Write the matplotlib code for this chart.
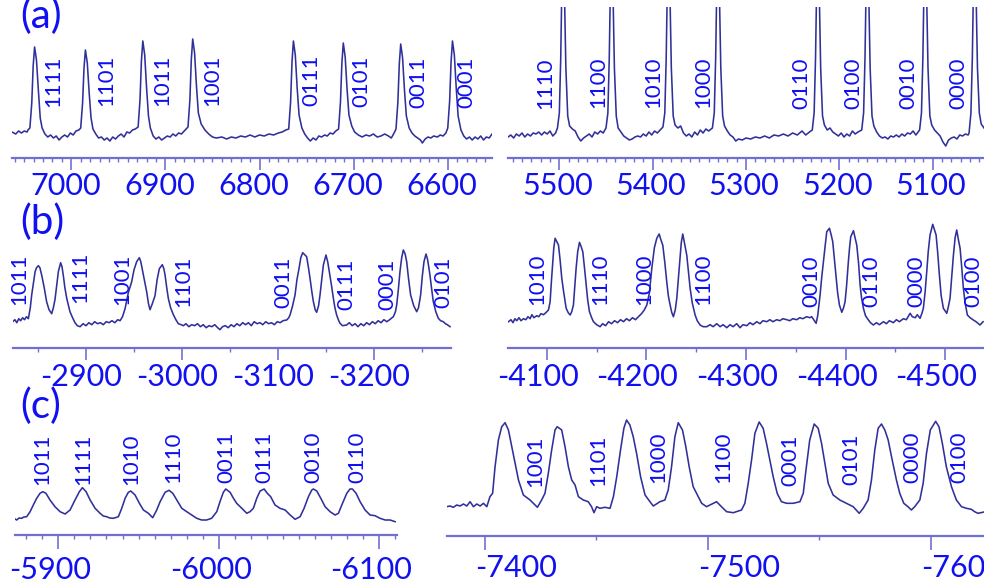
import numpy as np
import matplotlib
matplotlib.use('Agg')
import matplotlib.pyplot as plt
from matplotlib.ticker import MultipleLocator, FixedLocator, FormatStrFormatter
from matplotlib.transforms import ScaledTranslation

plt.rcParams['font.family'] = ['Lato', 'DejaVu Sans']
plt.rcParams['axes.unicode_minus'] = False

TXT = '#1010f0'
LINE = '#30309a'
AXC = '#7070d4'

# ---- (a) left: spectrum (x, intensity)
a1_pts = np.array([
    (7063, 26), (7059, 24), (7056, 27), (7053, 25), (7050, 27), (7047, 26), (7046, 28),
    (7044, 30), (7042, 55), (7040.5, 92), (7039, 111), (7037, 98), (7035, 68), (7033, 40), (7031, 30),
    (7028, 24), (7025, 21), (7022, 23), (7019, 20), (7016, 22), (7013, 18), (7010, 21), (7007, 23),
    (7004, 21), (7001, 25), (6998, 23), (6995, 27), (6992, 28),
    (6990, 30), (6988, 55), (6986.5, 90), (6985, 108), (6983, 95), (6981, 65), (6979, 40), (6977, 29),
    (6974, 24), (6971, 20), (6968, 21), (6965, 18), (6962, 20), (6959, 17), (6956, 21), (6953, 19),
    (6950, 22), (6947, 24), (6944, 21), (6941, 26), (6938, 25), (6935, 28), (6932, 29),
    (6929, 31), (6927, 58), (6925.5, 97), (6924, 117), (6922, 103), (6920, 70), (6918, 42), (6916, 30),
    (6913, 22), (6910, 19), (6907, 21), (6904, 18), (6901, 20), (6898, 22), (6895, 21), (6892, 24),
    (6889, 22), (6886, 25), (6883, 24), (6880, 27), (6878, 29),
    (6876, 31), (6874, 58), (6872.5, 98), (6871, 119), (6869, 105), (6867, 72), (6865, 45), (6862, 34),
    (6858, 28), (6854, 24), (6850, 21), (6846, 20), (6840, 21), (6835, 19), (6830, 21), (6825, 20),
    (6820, 22), (6815, 21), (6810, 23), (6805, 21), (6800, 23), (6795, 22), (6790, 24), (6785, 23),
    (6780, 25), (6776, 26), (6772, 28),
    (6769, 29), (6767, 56), (6765.5, 96), (6764, 117), (6762, 103), (6760, 70), (6758, 43), (6755, 30),
    (6752, 24), (6749, 20), (6746, 17), (6743, 20), (6740, 18), (6737, 22), (6734, 21), (6731, 23),
    (6728, 22), (6725, 25), (6722, 24), (6719, 27),
    (6716, 29), (6714, 56), (6712.5, 95), (6711, 115), (6709, 101), (6707, 69), (6705, 43), (6702, 32),
    (6699, 26), (6695, 23), (6691, 21), (6687, 23), (6683, 22), (6679, 24), (6675, 21), (6671, 22),
    (6667, 24), (6663, 22), (6660, 20), (6657, 25),
    (6655, 29), (6653, 56), (6651.5, 94), (6650, 114), (6648, 100), (6646, 68), (6644, 42), (6641, 30),
    (6638, 25), (6635, 22), (6632, 20), (6629, 18), (6627, 15), (6624, 19), (6621, 21), (6618, 20),
    (6615, 22), (6611, 21), (6608, 23), (6605, 22), (6602, 25),
    (6600, 30), (6598, 57), (6596.5, 96), (6595, 117), (6593, 103), (6591, 70), (6589, 42), (6586, 28),
    (6583, 22), (6580, 19), (6577, 21), (6574, 18), (6571, 21), (6568, 19), (6565, 22), (6562, 18),
    (6559, 21), (6556, 20), (6553, 24)])
a1_codes = ['1111', '1101', '1011', '1001', '0111', '0101', '0011', '0001']
a1_lx = [7018.8, 6962.8, 6903.7, 6850, 6744.5, 6691.4, 6631.3, 6580]
a1_ly = [51.3, 52, 52, 52, 52, 51.3, 49.7, 49.7]
a1_ticks = [7000, 6900, 6800, 6700, 6600]

# ---- (a) right
a2_pts = np.array([
    (5555, 21), (5552, 23), (5549, 20), (5546, 24), (5543, 22), (5540, 25), (5537, 21), (5534, 24),
    (5531, 22), (5528, 25), (5525, 24), (5522, 26), (5519, 23), (5516, 26), (5513, 24), (5510, 27),
    (5507, 22), (5504, 25),
    (5502, 30), (5500, 45), (5498.5, 100), (5497.5, 160), (5496, 200), (5494.5, 165), (5493, 90),
    (5491, 42), (5489, 32),
    (5486, 29), (5483, 27), (5480, 21), (5477, 17), (5474, 20), (5471, 22), (5468, 24), (5465, 21),
    (5462, 26), (5459, 24), (5456, 27), (5453, 25),
    (5450, 30), (5448, 45), (5446.5, 100), (5445.5, 160), (5444, 200), (5442.5, 165), (5441, 90),
    (5439, 42), (5437, 30),
    (5434, 26), (5431, 22), (5428, 20), (5425, 18), (5422, 19), (5419, 21), (5416, 22), (5413, 21),
    (5410, 24), (5407, 22), (5404, 26), (5401, 23), (5398, 27), (5395, 25), (5392, 28),
    (5389, 31), (5387, 45), (5385.5, 100), (5384.5, 160), (5383, 200), (5381.5, 165), (5380, 90),
    (5378, 42), (5376, 33),
    (5373, 30), (5370, 32), (5367, 25), (5364, 22), (5361, 24), (5358, 21), (5355, 26), (5352, 23),
    (5349, 28), (5346, 25), (5343, 29), (5340, 27),
    (5336, 30), (5334, 45), (5332.5, 100), (5331.5, 160), (5330, 200), (5328.5, 165), (5327, 90),
    (5325, 42), (5323, 32),
    (5320, 27), (5317, 23), (5314, 21), (5311, 17), (5308, 19), (5304, 18), (5300, 20), (5295, 19),
    (5290, 21), (5285, 20), (5280, 22), (5275, 20), (5270, 23), (5265, 22), (5260, 24), (5255, 22),
    (5250, 25), (5245, 23), (5240, 27), (5236, 23), (5232, 26),
    (5229, 28), (5227, 45), (5225.5, 100), (5224.5, 160), (5223, 200), (5221.5, 165), (5220, 90),
    (5218, 42), (5216, 33),
    (5213, 28), (5210, 30), (5207, 26), (5204, 24), (5201, 22), (5198, 25), (5195, 21), (5192, 24),
    (5189, 22), (5186, 27), (5183, 24), (5180, 26),
    (5176, 28), (5174, 45), (5172.5, 100), (5171.5, 160), (5170, 200), (5168.5, 165), (5167, 90),
    (5165, 42), (5163, 32),
    (5160, 26), (5157, 22), (5154, 20), (5151, 21), (5148, 19), (5145, 22), (5142, 21), (5139, 23),
    (5136, 21), (5133, 24), (5130, 22), (5127, 25), (5124, 24), (5121, 27), (5118, 23),
    (5114, 28), (5112, 45), (5110.5, 100), (5109.5, 160), (5108, 200), (5106.5, 165), (5105, 90),
    (5103, 42), (5101, 33),
    (5098, 28), (5095, 25), (5092, 22), (5089, 16), (5086, 12), (5083, 18), (5080, 20), (5077, 21),
    (5074, 19), (5071, 23), (5068, 22), (5065, 24), (5062, 23),
    (5061, 25), (5059, 45), (5057.5, 100), (5056.5, 160), (5055, 200), (5053.5, 165), (5052, 90),
    (5050, 45), (5048, 34), (5045, 30)])
a2_codes = ['1110', '1100', '1010', '1000', '0110', '0100', '0010', '0000']
a2_lx = [5515.3, 5458.2, 5399.3, 5345.8, 5241.2, 5185.2, 5126.3, 5072.8]
a2_ly = [48.7, 49.7, 49.7, 49.7, 48.7, 48.7, 48.7, 48.7]
a2_ticks = [5500, 5400, 5300, 5200, 5100]

# ---- (b) left
b1_pts = np.array([
    (-2823.7, 26), (-2826, 28), (-2828, 25), (-2830, 29), (-2832, 27), (-2834, 30), (-2836, 28),
    (-2838, 31), (-2840, 29), (-2842, 40), (-2843.5, 53), (-2845, 63), (-2847, 76), (-2848.5, 80),
    (-2850.4, 82), (-2852, 80), (-2854, 72), (-2856.5, 60), (-2859, 46), (-2861.5, 38), (-2864.3, 34),
    (-2866, 40), (-2867.7, 48), (-2869.5, 62), (-2871.2, 76), (-2873.6, 85), (-2875, 81), (-2876.4, 72),
    (-2878, 60), (-2880, 49), (-2883.3, 36), (-2886, 30), (-2888.5, 25), (-2891, 22), (-2893.8, 21),
    (-2897, 24), (-2900, 22), (-2903, 25), (-2906, 23), (-2909, 26), (-2912, 24), (-2915, 25),
    (-2918, 23), (-2921, 26), (-2924, 25), (-2927, 27), (-2930, 25), (-2933, 28), (-2935.4, 27),
    (-2938, 31), (-2940.6, 39), (-2944, 55), (-2947.5, 66), (-2950, 78), (-2952.7, 86), (-2955.5, 90),
    (-2957, 86), (-2959, 76), (-2961, 66), (-2963.1, 56), (-2965, 44), (-2966.6, 38), (-2969, 44),
    (-2971.8, 52), (-2974, 68), (-2976.3, 79), (-2979.4, 83), (-2981, 79), (-2982.2, 73), (-2984, 60),
    (-2985.7, 49), (-2988, 40), (-2990.9, 33), (-2993.5, 28), (-2996.1, 24), (-2999, 23), (-3001.3, 22),
    (-3004, 24), (-3007, 21), (-3010, 23), (-3013, 22), (-3016, 24), (-3019, 21), (-3022, 23),
    (-3025, 20), (-3028, 22), (-3031, 21), (-3034, 23), (-3037, 20), (-3039.4, 18), (-3042, 21),
    (-3045, 22), (-3048, 20), (-3051, 23), (-3054, 21), (-3057, 24), (-3060, 22), (-3063, 25),
    (-3066, 23), (-3069, 25), (-3072, 22), (-3075, 26), (-3078, 24), (-3081, 25), (-3084, 23),
    (-3087, 26), (-3090, 24), (-3093, 25), (-3096, 23), (-3099, 26), (-3102, 25), (-3105, 27),
    (-3108.8, 27.7), (-3111, 30), (-3112.3, 32.7), (-3115, 42), (-3117.5, 52.7), (-3119.5, 68),
    (-3121.7, 79.4), (-3123.5, 90), (-3125.5, 95), (-3127.5, 93), (-3129.6, 91), (-3131.5, 80),
    (-3133.1, 69.4), (-3135, 56), (-3136.6, 46), (-3138.5, 38), (-3140, 35.4), (-3142, 42),
    (-3143.5, 52.7), (-3145.5, 70), (-3147, 82.7), (-3149.7, 92.7), (-3151.5, 86), (-3153.2, 76),
    (-3155.5, 62), (-3157.4, 49.4), (-3159, 40), (-3160.8, 32.7), (-3163, 27), (-3164.3, 24.4),
    (-3167, 22), (-3171.2, 22.7), (-3174, 25), (-3177, 22), (-3180, 24), (-3183, 21), (-3186, 24),
    (-3189, 22), (-3192, 25), (-3195, 23), (-3198, 26), (-3201, 24), (-3204, 27), (-3207, 25),
    (-3210, 28), (-3213, 26), (-3216, 28), (-3219.8, 31), (-3222, 36), (-3223.3, 42.7), (-3225, 58),
    (-3226.7, 76), (-3228.5, 90), (-3230.2, 97.7), (-3232, 94), (-3233.7, 86), (-3235.5, 70),
    (-3237.8, 52.7), (-3241, 42), (-3244.1, 36), (-3246, 40), (-3248.2, 52.7), (-3250, 72),
    (-3251.7, 86), (-3253.8, 93.7), (-3255.5, 88), (-3257.9, 72.7), (-3259.5, 60), (-3261.4, 46),
    (-3264, 36), (-3266.6, 29.4), (-3269, 27), (-3271.8, 26), (-3274, 24), (-3276, 23), (-3278.8, 21)])
b1_codes = ['1011', '1111', '1001', '1101', '0011', '0111', '0001', '0101']
b1_lx = [-2830.3, -2893.8, -2937.5, -3000.9, -3105, -3170.6, -3213.2, -3271.5]
b1_ly = [42.7, 44.4, 42.7, 40.4, 39.4, 37.7, 37.7, 39.4]
b1_ticks = [-2900, -3000, -3100, -3200]

# ---- (b) right
b2_pts = np.array([
    (-4061.5, 26), (-4064, 28), (-4066, 25), (-4068, 29), (-4069.8, 27), (-4072, 30), (-4074, 27),
    (-4076.5, 29), (-4079, 28), (-4081, 31), (-4083.2, 29), (-4085, 33), (-4087, 30), (-4089.9, 32),
    (-4092, 31), (-4094, 34), (-4096.6, 33), (-4099, 35), (-4101.6, 37.7),
    (-4103.3, 46), (-4104.5, 65), (-4106, 86), (-4107, 100), (-4108.3, 109.4), (-4110, 106),
    (-4111.7, 102.7), (-4113.3, 88), (-4115, 69.4), (-4117, 55), (-4119.4, 39.4), (-4121.5, 35),
    (-4123.4, 32.7), (-4125, 36), (-4126.7, 42.7), (-4128, 60), (-4129.4, 79.4), (-4131, 96),
    (-4132.8, 105.4), (-4134.5, 101), (-4136.1, 96), (-4137.8, 80), (-4139.5, 62.7), (-4141, 48),
    (-4142.8, 36), (-4145, 30), (-4146.8, 26), (-4150, 23), (-4153.5, 21),
    (-4156, 24), (-4159, 22), (-4162, 26), (-4165, 24), (-4168, 27), (-4171, 25), (-4174, 28),
    (-4177, 26), (-4180, 29), (-4183, 27), (-4186, 30), (-4189, 28), (-4192, 31), (-4195.4, 34.4),
    (-4198, 38), (-4200.4, 42.7),
    (-4203, 55), (-4205.4, 79.4), (-4208, 100), (-4210.4, 109.4), (-4212.8, 113.7), (-4214.5, 108),
    (-4216.4, 102.7), (-4218.5, 85), (-4220.4, 66), (-4222, 52), (-4223.8, 42.7), (-4225.5, 35),
    (-4227.1, 31), (-4229, 38), (-4230.5, 49.4), (-4232, 68), (-4233.8, 89.4), (-4235, 105),
    (-4236.5, 113.7), (-4238.5, 103), (-4240.5, 92.7), (-4242, 78), (-4243.9, 59.4), (-4246, 45),
    (-4248.9, 32.7), (-4251, 27), (-4253.9, 22.7), (-4257, 21), (-4260.6, 21),
    (-4264, 23), (-4267, 21), (-4270.6, 24), (-4274, 21), (-4277, 23), (-4280.7, 20), (-4284, 23),
    (-4287, 21), (-4290.7, 24), (-4294, 20), (-4297, 23), (-4300.8, 22), (-4304, 25), (-4307, 23),
    (-4310.8, 26), (-4314, 24), (-4317, 27), (-4320.8, 26), (-4324, 28), (-4327, 26), (-4330.9, 28),
    (-4334, 27), (-4337, 29), (-4340.9, 28), (-4344, 27), (-4347, 29), (-4351, 28), (-4354, 30),
    (-4357, 29), (-4361, 31), (-4364, 30), (-4366, 31), (-4368, 28), (-4370.4, 24.4), (-4372, 32),
    (-4374.4, 52.7), (-4376, 70), (-4377.7, 86), (-4379.5, 102), (-4381.1, 116), (-4383.8, 119.4),
    (-4385.5, 113), (-4387.1, 106), (-4388.8, 88), (-4390.5, 69.4), (-4392, 55), (-4393.8, 42.7),
    (-4396.2, 35.4), (-4398, 40), (-4399.5, 46), (-4401, 62), (-4402.8, 86), (-4404, 100),
    (-4405.2, 111), (-4407.9, 117), (-4409.5, 110), (-4411.2, 102.7), (-4413, 85), (-4414.6, 62.7),
    (-4416, 50), (-4417.9, 39.4), (-4420, 32), (-4422.9, 27.7), (-4425, 25), (-4427.9, 22.7),
    (-4431, 25), (-4434, 23), (-4438, 26), (-4441, 24), (-4444, 27), (-4448, 25), (-4451, 28),
    (-4454, 26), (-4458.1, 29), (-4461, 28), (-4464.8, 34.4), (-4467, 31), (-4470, 30), (-4472, 33),
    (-4474.8, 29.4), (-4476.5, 34),
    (-4478.1, 39.4), (-4479.8, 55), (-4481.5, 76), (-4483, 96), (-4484.8, 112.7), (-4487.5, 123.4),
    (-4489.2, 118), (-4490.9, 112.7), (-4492.5, 95), (-4494.2, 72.7), (-4496, 52), (-4498.2, 39.4),
    (-4501.6, 34.4), (-4503, 40), (-4504.9, 49.4), (-4506.5, 70), (-4508.3, 92.7), (-4510, 110),
    (-4511.6, 117.7), (-4513.3, 108), (-4515, 99.4), (-4516.5, 82), (-4518.3, 59.4), (-4520, 45),
    (-4522.3, 32.7), (-4525, 30), (-4528.3, 27.7), (-4531, 26), (-4535, 22.7), (-4538.1, 26)])
b2_codes = ['1010', '1110', '1000', '1100', '0010', '0110', '0000', '0100']
b2_lx = [-4090, -4153.5, -4197.7, -4256.9, -4366, -4426.3, -4471.5, -4528]
b2_ly = [42.7, 42.7, 42.7, 42.7, 41, 41, 41, 41]
b2_ticks = [-4100, -4200, -4300, -4400, -4500]

# ---- (c) left
c1_pts = np.array([
    (-5873, 16), (-5874.1, 15), (-5875.5, 17), (-5877.2, 16.7), (-5878.5, 18), (-5880.3, 18.3),
    (-5882.4, 23.3), (-5884.4, 30), (-5886.5, 36.7), (-5888.6, 41.7), (-5890.3, 43.3), (-5892.3, 41.7),
    (-5894.8, 35), (-5897.9, 28.3), (-5901.1, 23.3), (-5904.2, 21), (-5907.3, 25), (-5910.4, 35),
    (-5913.1, 43.3), (-5915, 47.3), (-5917.3, 43.3), (-5919.8, 35), (-5922.9, 26.7), (-5926, 21.7),
    (-5928, 19), (-5930.1, 18.3), (-5932, 17), (-5934.3, 16.7), (-5937.4, 18.3), (-5939.5, 26.7),
    (-5941.6, 36.7), (-5943.6, 42.7), (-5945.1, 44), (-5947.8, 40), (-5950.5, 31.7), (-5953, 25),
    (-5956.1, 21.7), (-5958.8, 17.3), (-5961.3, 25), (-5963.4, 33.3), (-5966.5, 42.7), (-5969, 44.7),
    (-5971.3, 41.7), (-5973.8, 35), (-5976.9, 26.7), (-5980, 23.3), (-5983.1, 20), (-5986.2, 16.7),
    (-5989.3, 15), (-5992.4, 15), (-5995.5, 16.7), (-5998.7, 23.3), (-6000.7, 33.3), (-6002.8, 42.7),
    (-6004.3, 46), (-6007, 42.7), (-6009.1, 36.7), (-6011.1, 31.7), (-6014.3, 26.7), (-6017.4, 21.7),
    (-6019.4, 23.3), (-6021.5, 26.7), (-6023.6, 36.7), (-6025.7, 44), (-6028.2, 46), (-6030.2, 41.7),
    (-6032.3, 38.3), (-6035, 30), (-6038.1, 26.7), (-6041.3, 25), (-6044.4, 20), (-6047.5, 15.7),
    (-6050.6, 18.3), (-6053.1, 26.7), (-6055.8, 38.3), (-6057.9, 45), (-6058.9, 46), (-6061, 44),
    (-6063.5, 36.7), (-6066.2, 28.3), (-6069.3, 23.3), (-6072.4, 20), (-6074.5, 21.7), (-6076.6, 30),
    (-6079.7, 41.7), (-6081.7, 46), (-6083.2, 46), (-6085.5, 41.7), (-6088, 33.3), (-6091.1, 25),
    (-6094.2, 20), (-6097.3, 19.3), (-6100.4, 16.7), (-6103.6, 15), (-6106.7, 15), (-6109.8, 13.3)])
c1_codes = ['1011', '1111', '1010', '1110', '0011', '0111', '0010', '0110']
c1_lx = [-5890, -5915.2, -5945.3, -5971.3, -6004.9, -6028.3, -6058.9, -6086]
c1_ly = [50, 50, 50, 51.7, 51.7, 51.7, 51.7, 51.7]
c1_ticks = [-5900, -6000, -6100]

# ---- (c) right
c2_pts = np.array([
    (-7382.8, 29.3), (-7384.3, 30), (-7385.8, 28.7), (-7387.3, 31), (-7388.8, 30), (-7390.3, 32),
    (-7391.8, 30), (-7393.3, 34.3), (-7394.8, 29.3), (-7396.3, 32), (-7397.8, 30), (-7399.3, 32.7),
    (-7400.8, 29.3), (-7402.2, 39.3), (-7403.4, 42.7), (-7404.5, 69.3), (-7406, 96), (-7407.5, 109.3),
    (-7409, 113.3), (-7410.5, 106), (-7412, 89.3), (-7413.5, 72.7), (-7415, 56), (-7417.2, 41),
    (-7420.2, 36), (-7421.7, 32.7), (-7423.5, 28.7), (-7425.4, 36), (-7426.9, 42.7), (-7428.4, 62.7),
    (-7429.9, 86), (-7431.4, 106), (-7432.4, 109.3), (-7434.4, 106), (-7435.9, 89.3), (-7437.4, 69.3),
    (-7438.9, 56), (-7440.4, 51), (-7441.9, 39.3), (-7444.1, 36), (-7446.3, 34.3), (-7447.8, 29.3),
    (-7448.9, 23.3), (-7450.1, 29.3), (-7451.6, 27.7), (-7453.8, 28.7), (-7456.1, 27.7), (-7457.6, 39.3),
    (-7459.1, 59.3), (-7460.8, 86), (-7462.3, 107.7), (-7463.5, 116), (-7465, 111), (-7466.5, 99.3),
    (-7468, 82.7), (-7469.8, 59.3), (-7471.8, 41), (-7474, 34.3), (-7475.5, 30), (-7478.5, 34.3),
    (-7480.7, 36), (-7482.2, 46), (-7483.7, 69.3), (-7485.2, 99.3), (-7486.7, 113.3), (-7488.6, 106),
    (-7490.1, 89.3), (-7491.6, 69.3), (-7493.4, 49.3), (-7494.9, 42.7), (-7497.2, 32.7), (-7499.4, 29.3),
    (-7500.9, 31), (-7503.9, 34.3), (-7506.1, 29.3), (-7508.4, 24.3), (-7511.4, 23.3), (-7515.1, 26),
    (-7516.6, 32.7), (-7518.1, 52.7), (-7519.6, 76), (-7521.1, 102.7), (-7523, 114), (-7524.8, 107.7),
    (-7526.3, 92.7), (-7527.8, 76), (-7529.3, 59.3), (-7531.1, 42.7), (-7533, 34.3), (-7535.3, 32.7),
    (-7538.3, 32.7), (-7541.3, 34.3), (-7542.8, 42.7), (-7544.2, 69.3), (-7545.7, 96), (-7547.7, 112),
    (-7549.5, 107.7), (-7551, 92.7), (-7552.5, 72.7), (-7554, 52.7), (-7556.2, 41), (-7559.2, 36),
    (-7562.2, 32.7), (-7565.2, 29.3), (-7567.9, 22.7), (-7569.7, 27.7), (-7571.9, 36), (-7573.4, 56),
    (-7574.9, 86), (-7576.4, 107.7), (-7577.9, 112), (-7579.4, 106), (-7580.9, 96), (-7582.4, 79.3),
    (-7584.6, 56), (-7586.1, 42.7), (-7587.9, 32.7), (-7589.8, 29.3), (-7591.3, 26), (-7592.8, 29.3),
    (-7595.1, 36), (-7596.6, 52.7), (-7598.1, 82.7), (-7599.8, 106), (-7602.2, 114.7), (-7603.7, 109.3),
    (-7605.2, 92.7), (-7607, 69.3), (-7609.3, 49.3), (-7611.5, 36), (-7613.8, 29.3), (-7616, 27.7),
    (-7618.2, 26.7), (-7619.7, 24.3), (-7621.2, 22.7), (-7623.9, 24)])
c2_codes = ['1001', '1101', '1000', '1100', '0001', '0101', '0000', '0100']
c2_lx = [-7422.4, -7450.7, -7477.6, -7506.9, -7537.1, -7564.4, -7591.8, -7613]
c2_ly = [49.3, 50, 52.7, 52.7, 50, 51, 52.7, 52.7]
c2_ticks = [-7400, -7500, -7600]

W, H = 984, 587
fig = plt.figure(figsize=(W / 100, H / 100), dpi=100)


def panel(x0, x1, yaxis, ytop, pts, xlim, ytop_val, ticks, minor, codes, lx, ly,
          pad, tlen, dx):
    ax = fig.add_axes([x0 / W, 1 - yaxis / H, (x1 - x0) / W, (yaxis - ytop) / H])
    ax.plot(pts[:, 0], pts[:, 1], color=LINE, lw=1.15)
    ax.set_xlim(*xlim)
    ax.set_ylim(0, ytop_val)
    for s in ['top', 'left', 'right']:
        ax.spines[s].set_visible(False)
    ax.spines['bottom'].set_color(AXC)
    ax.spines['bottom'].set_linewidth(1.6)
    ax.set_yticks([])
    ax.xaxis.set_major_locator(FixedLocator(ticks))
    ax.xaxis.set_minor_locator(MultipleLocator(minor))
    ax.xaxis.set_major_formatter(FormatStrFormatter('%d'))
    ax.tick_params(axis='x', which='major', direction='out', length=tlen, width=1.2,
                   color=AXC, labelcolor=TXT, labelsize=22, pad=pad)
    ax.tick_params(axis='x', which='minor', direction='out', length=3.2, width=1.0,
                   color=AXC)
    off = ScaledTranslation(dx / 100, 0, fig.dpi_scale_trans)
    for lab in ax.get_xticklabels():
        lab.set_transform(lab.get_transform() + off)
    for c, x, y in zip(codes, lx, ly):
        ax.text(x, y, c, rotation=90, ha='center', va='bottom', fontsize=16, color=TXT)
    ax.patch.set_visible(False)
    return ax


panel(12, 492, 158, 30, a1_pts, (7063, 6553), 128, a1_ticks, 10, a1_codes, a1_lx, a1_ly, 1.8, 8.6, -6)
panel(508, 984, 158, 7, a2_pts, (5555, 5045), 151, a2_ticks, 10, a2_codes, a2_lx, a2_ly, 1.8, 8.6, -2)
panel(12.7, 450.7, 347.7, 220, b1_pts, (-2823.7, -3279.5), 127.7, b1_ticks, 50, b1_codes, b1_lx, b1_ly, 2.2, 8.6, -5)
panel(508, 984, 347.7, 220, b2_pts, (-4061, -4539), 127.7, b2_ticks, 50, b2_codes, b2_lx, b2_ly, 2.2, 8.6, -9)
panel(15, 396.7, 535, 415, c1_pts, (-5873, -6110.8), 120, c1_ticks, 10, c1_codes, c1_lx, c1_ly, 5, 10, -8)
panel(446.7, 984, 536, 415, c2_pts, (-7382.8, -7623.9), 121, c2_ticks, 50, c2_codes, c2_lx, c2_ly, 3.2, 10, 31)

for lbl, yb in [('(a)', 28), ('(b)', 234), ('(c)', 418)]:
    fig.text(20 / W, 1 - yb / H, lbl, fontsize=29, color=TXT, ha='left', va='baseline')

fig.savefig('out.png', dpi=100)
